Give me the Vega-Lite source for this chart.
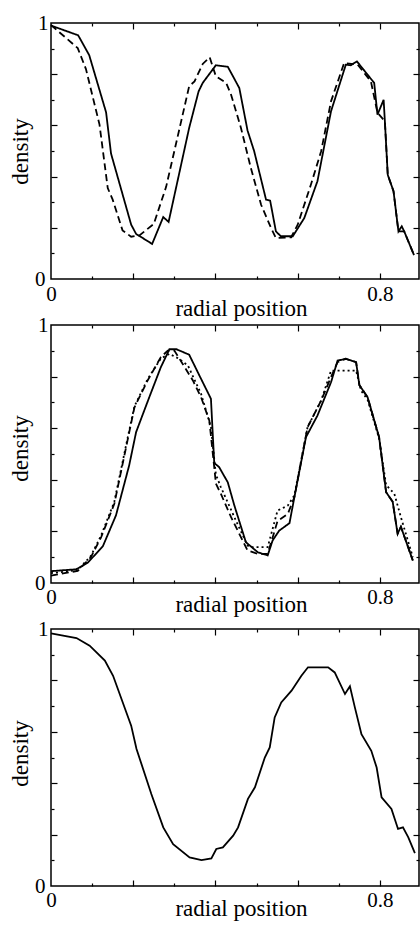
{
  "$schema": "https://vega.github.io/schema/vega-lite/v6.json",
  "padding": {"left": 8, "top": 11, "right": 0, "bottom": 0},
  "background": "white",
  "config": {
    "font": "'Liberation Serif', 'Times New Roman', serif",
    "view": {"stroke": "black", "strokeWidth": 1.5},
    "axis": {"domain": false, "grid": false, "labels": false, "ticks": true, "tickColor": "black", "tickWidth": 1.2, "format": "~g",
      "labelFont": "'Liberation Serif', 'Times New Roman', serif", "labelFontSize": 21, "labelColor": "black", "labelFlush": false, "labelOverlap": false,
      "titleFont": "'Liberation Serif', 'Times New Roman', serif", "titleFontSize": 23, "titleColor": "black", "titleFontWeight": "normal"}
  },
  "datasets": {
    "p1": [
      {"s": "solid", "x": 0, "y": 0.99}, {"s": "solid", "x": 0.066, "y": 0.952}, {"s": "solid", "x": 0.093, "y": 0.874},
      {"s": "solid", "x": 0.134, "y": 0.651}, {"s": "solid", "x": 0.146, "y": 0.49}, {"s": "solid", "x": 0.195, "y": 0.212},
      {"s": "solid", "x": 0.207, "y": 0.176}, {"s": "solid", "x": 0.246, "y": 0.137}, {"s": "solid", "x": 0.273, "y": 0.242},
      {"s": "solid", "x": 0.286, "y": 0.223}, {"s": "solid", "x": 0.336, "y": 0.59}, {"s": "solid", "x": 0.359, "y": 0.733},
      {"s": "solid", "x": 0.369, "y": 0.766}, {"s": "solid", "x": 0.401, "y": 0.835}, {"s": "solid", "x": 0.43, "y": 0.829},
      {"s": "solid", "x": 0.458, "y": 0.746}, {"s": "solid", "x": 0.478, "y": 0.58}, {"s": "solid", "x": 0.494, "y": 0.5},
      {"s": "solid", "x": 0.523, "y": 0.31}, {"s": "solid", "x": 0.533, "y": 0.306}, {"s": "solid", "x": 0.547, "y": 0.186},
      {"s": "solid", "x": 0.559, "y": 0.167}, {"s": "solid", "x": 0.588, "y": 0.167}, {"s": "solid", "x": 0.616, "y": 0.238},
      {"s": "solid", "x": 0.648, "y": 0.382}, {"s": "solid", "x": 0.681, "y": 0.655}, {"s": "solid", "x": 0.717, "y": 0.837},
      {"s": "solid", "x": 0.729, "y": 0.835}, {"s": "solid", "x": 0.744, "y": 0.85}, {"s": "solid", "x": 0.786, "y": 0.766},
      {"s": "solid", "x": 0.794, "y": 0.642}, {"s": "solid", "x": 0.809, "y": 0.7}, {"s": "solid", "x": 0.812, "y": 0.616},
      {"s": "solid", "x": 0.819, "y": 0.407}, {"s": "solid", "x": 0.833, "y": 0.343}, {"s": "solid", "x": 0.845, "y": 0.186},
      {"s": "solid", "x": 0.853, "y": 0.206}, {"s": "solid", "x": 0.859, "y": 0.186}, {"s": "solid", "x": 0.883, "y": 0.093},
      {"s": "dashed", "x": 0, "y": 0.992}, {"s": "dashed", "x": 0.065, "y": 0.902}, {"s": "dashed", "x": 0.085, "y": 0.82},
      {"s": "dashed", "x": 0.118, "y": 0.603}, {"s": "dashed", "x": 0.138, "y": 0.355}, {"s": "dashed", "x": 0.15, "y": 0.31},
      {"s": "dashed", "x": 0.174, "y": 0.19}, {"s": "dashed", "x": 0.195, "y": 0.165}, {"s": "dashed", "x": 0.215, "y": 0.17},
      {"s": "dashed", "x": 0.25, "y": 0.215}, {"s": "dashed", "x": 0.28, "y": 0.36}, {"s": "dashed", "x": 0.3, "y": 0.5},
      {"s": "dashed", "x": 0.32, "y": 0.64}, {"s": "dashed", "x": 0.336, "y": 0.753}, {"s": "dashed", "x": 0.349, "y": 0.772},
      {"s": "dashed", "x": 0.369, "y": 0.84}, {"s": "dashed", "x": 0.386, "y": 0.866}, {"s": "dashed", "x": 0.401, "y": 0.792},
      {"s": "dashed", "x": 0.426, "y": 0.766}, {"s": "dashed", "x": 0.438, "y": 0.72}, {"s": "dashed", "x": 0.462, "y": 0.59},
      {"s": "dashed", "x": 0.486, "y": 0.434}, {"s": "dashed", "x": 0.511, "y": 0.29}, {"s": "dashed", "x": 0.535, "y": 0.2},
      {"s": "dashed", "x": 0.547, "y": 0.16}, {"s": "dashed", "x": 0.584, "y": 0.163}, {"s": "dashed", "x": 0.6, "y": 0.212},
      {"s": "dashed", "x": 0.632, "y": 0.368}, {"s": "dashed", "x": 0.657, "y": 0.499}, {"s": "dashed", "x": 0.681, "y": 0.694},
      {"s": "dashed", "x": 0.713, "y": 0.844}, {"s": "dashed", "x": 0.746, "y": 0.837}, {"s": "dashed", "x": 0.778, "y": 0.772},
      {"s": "dashed", "x": 0.794, "y": 0.65}, {"s": "dashed", "x": 0.812, "y": 0.616}, {"s": "dashed", "x": 0.819, "y": 0.407},
      {"s": "dashed", "x": 0.833, "y": 0.343}, {"s": "dashed", "x": 0.845, "y": 0.186}, {"s": "dashed", "x": 0.859, "y": 0.186},
      {"s": "dashed", "x": 0.883, "y": 0.093}
    ],
    "p2": [
      {"s": "solid", "x": 0, "y": 0.046}, {"s": "solid", "x": 0.061, "y": 0.053}, {"s": "solid", "x": 0.089, "y": 0.078},
      {"s": "solid", "x": 0.126, "y": 0.142}, {"s": "solid", "x": 0.158, "y": 0.262}, {"s": "solid", "x": 0.19, "y": 0.455},
      {"s": "solid", "x": 0.207, "y": 0.585}, {"s": "solid", "x": 0.239, "y": 0.72}, {"s": "solid", "x": 0.267, "y": 0.836},
      {"s": "solid", "x": 0.288, "y": 0.906}, {"s": "solid", "x": 0.305, "y": 0.906}, {"s": "solid", "x": 0.336, "y": 0.885},
      {"s": "solid", "x": 0.361, "y": 0.804}, {"s": "solid", "x": 0.389, "y": 0.714}, {"s": "solid", "x": 0.397, "y": 0.465},
      {"s": "solid", "x": 0.409, "y": 0.449}, {"s": "solid", "x": 0.43, "y": 0.39}, {"s": "solid", "x": 0.446, "y": 0.3},
      {"s": "solid", "x": 0.474, "y": 0.158}, {"s": "solid", "x": 0.503, "y": 0.119}, {"s": "solid", "x": 0.527, "y": 0.107},
      {"s": "solid", "x": 0.539, "y": 0.165}, {"s": "solid", "x": 0.555, "y": 0.203}, {"s": "solid", "x": 0.58, "y": 0.232},
      {"s": "solid", "x": 0.592, "y": 0.333}, {"s": "solid", "x": 0.62, "y": 0.565}, {"s": "solid", "x": 0.648, "y": 0.649},
      {"s": "solid", "x": 0.681, "y": 0.778}, {"s": "solid", "x": 0.697, "y": 0.862}, {"s": "solid", "x": 0.717, "y": 0.869},
      {"s": "solid", "x": 0.742, "y": 0.856}, {"s": "solid", "x": 0.75, "y": 0.767}, {"s": "solid", "x": 0.77, "y": 0.72},
      {"s": "solid", "x": 0.798, "y": 0.565}, {"s": "solid", "x": 0.815, "y": 0.352}, {"s": "solid", "x": 0.831, "y": 0.315},
      {"s": "solid", "x": 0.843, "y": 0.191}, {"s": "solid", "x": 0.851, "y": 0.218}, {"s": "solid", "x": 0.88, "y": 0.087},
      {"s": "dashed", "x": 0, "y": 0.029}, {"s": "dashed", "x": 0.065, "y": 0.047}, {"s": "dashed", "x": 0.097, "y": 0.1},
      {"s": "dashed", "x": 0.122, "y": 0.178}, {"s": "dashed", "x": 0.154, "y": 0.307}, {"s": "dashed", "x": 0.186, "y": 0.552},
      {"s": "dashed", "x": 0.203, "y": 0.681}, {"s": "dashed", "x": 0.235, "y": 0.785}, {"s": "dashed", "x": 0.267, "y": 0.875},
      {"s": "dashed", "x": 0.284, "y": 0.901}, {"s": "dashed", "x": 0.3, "y": 0.901}, {"s": "dashed", "x": 0.32, "y": 0.85},
      {"s": "dashed", "x": 0.345, "y": 0.785}, {"s": "dashed", "x": 0.365, "y": 0.72}, {"s": "dashed", "x": 0.385, "y": 0.63},
      {"s": "dashed", "x": 0.397, "y": 0.449}, {"s": "dashed", "x": 0.401, "y": 0.385}, {"s": "dashed", "x": 0.413, "y": 0.346},
      {"s": "dashed", "x": 0.438, "y": 0.255}, {"s": "dashed", "x": 0.478, "y": 0.126}, {"s": "dashed", "x": 0.503, "y": 0.113},
      {"s": "dashed", "x": 0.527, "y": 0.113}, {"s": "dashed", "x": 0.551, "y": 0.24}, {"s": "dashed", "x": 0.576, "y": 0.268},
      {"s": "dashed", "x": 0.592, "y": 0.333}, {"s": "dashed", "x": 0.624, "y": 0.604}, {"s": "dashed", "x": 0.657, "y": 0.707},
      {"s": "dashed", "x": 0.681, "y": 0.798}, {"s": "dashed", "x": 0.697, "y": 0.856}, {"s": "dashed", "x": 0.717, "y": 0.869},
      {"s": "dashed", "x": 0.742, "y": 0.856}, {"s": "dashed", "x": 0.75, "y": 0.767}, {"s": "dashed", "x": 0.77, "y": 0.72},
      {"s": "dashed", "x": 0.798, "y": 0.565}, {"s": "dashed", "x": 0.815, "y": 0.352}, {"s": "dashed", "x": 0.831, "y": 0.315},
      {"s": "dashed", "x": 0.843, "y": 0.191}, {"s": "dashed", "x": 0.851, "y": 0.218}, {"s": "dashed", "x": 0.88, "y": 0.087},
      {"s": "dotted", "x": 0, "y": 0.038}, {"s": "dotted", "x": 0.065, "y": 0.05}, {"s": "dotted", "x": 0.097, "y": 0.105},
      {"s": "dotted", "x": 0.122, "y": 0.185}, {"s": "dotted", "x": 0.154, "y": 0.315}, {"s": "dotted", "x": 0.186, "y": 0.56},
      {"s": "dotted", "x": 0.203, "y": 0.685}, {"s": "dotted", "x": 0.235, "y": 0.79}, {"s": "dotted", "x": 0.267, "y": 0.87},
      {"s": "dotted", "x": 0.288, "y": 0.888}, {"s": "dotted", "x": 0.31, "y": 0.87}, {"s": "dotted", "x": 0.333, "y": 0.843},
      {"s": "dotted", "x": 0.365, "y": 0.733}, {"s": "dotted", "x": 0.389, "y": 0.604}, {"s": "dotted", "x": 0.401, "y": 0.42},
      {"s": "dotted", "x": 0.413, "y": 0.372}, {"s": "dotted", "x": 0.446, "y": 0.255}, {"s": "dotted", "x": 0.478, "y": 0.145},
      {"s": "dotted", "x": 0.486, "y": 0.139}, {"s": "dotted", "x": 0.527, "y": 0.139}, {"s": "dotted", "x": 0.551, "y": 0.281},
      {"s": "dotted", "x": 0.576, "y": 0.3}, {"s": "dotted", "x": 0.592, "y": 0.34}, {"s": "dotted", "x": 0.624, "y": 0.604},
      {"s": "dotted", "x": 0.657, "y": 0.707}, {"s": "dotted", "x": 0.681, "y": 0.823}, {"s": "dotted", "x": 0.742, "y": 0.823},
      {"s": "dotted", "x": 0.754, "y": 0.746}, {"s": "dotted", "x": 0.77, "y": 0.71}, {"s": "dotted", "x": 0.798, "y": 0.56},
      {"s": "dotted", "x": 0.815, "y": 0.38}, {"s": "dotted", "x": 0.835, "y": 0.346}, {"s": "dotted", "x": 0.851, "y": 0.255},
      {"s": "dotted", "x": 0.88, "y": 0.1}
    ],
    "p3": [
      {"s": "solid", "x": 0, "y": 0.983}, {"s": "solid", "x": 0.062, "y": 0.965}, {"s": "solid", "x": 0.094, "y": 0.935},
      {"s": "solid", "x": 0.131, "y": 0.877}, {"s": "solid", "x": 0.151, "y": 0.818}, {"s": "solid", "x": 0.195, "y": 0.624},
      {"s": "solid", "x": 0.208, "y": 0.533}, {"s": "solid", "x": 0.244, "y": 0.358}, {"s": "solid", "x": 0.273, "y": 0.228},
      {"s": "solid", "x": 0.297, "y": 0.163}, {"s": "solid", "x": 0.337, "y": 0.111}, {"s": "solid", "x": 0.366, "y": 0.101},
      {"s": "solid", "x": 0.39, "y": 0.107}, {"s": "solid", "x": 0.402, "y": 0.144}, {"s": "solid", "x": 0.418, "y": 0.15},
      {"s": "solid", "x": 0.443, "y": 0.196}, {"s": "solid", "x": 0.455, "y": 0.228}, {"s": "solid", "x": 0.479, "y": 0.339},
      {"s": "solid", "x": 0.496, "y": 0.384}, {"s": "solid", "x": 0.52, "y": 0.5}, {"s": "solid", "x": 0.532, "y": 0.539},
      {"s": "solid", "x": 0.544, "y": 0.656}, {"s": "solid", "x": 0.56, "y": 0.714}, {"s": "solid", "x": 0.585, "y": 0.76},
      {"s": "solid", "x": 0.609, "y": 0.818}, {"s": "solid", "x": 0.625, "y": 0.851}, {"s": "solid", "x": 0.674, "y": 0.851},
      {"s": "solid", "x": 0.69, "y": 0.831}, {"s": "solid", "x": 0.715, "y": 0.747}, {"s": "solid", "x": 0.727, "y": 0.777},
      {"s": "solid", "x": 0.739, "y": 0.695}, {"s": "solid", "x": 0.755, "y": 0.591}, {"s": "solid", "x": 0.779, "y": 0.526},
      {"s": "solid", "x": 0.792, "y": 0.461}, {"s": "solid", "x": 0.804, "y": 0.345}, {"s": "solid", "x": 0.828, "y": 0.3},
      {"s": "solid", "x": 0.844, "y": 0.222}, {"s": "solid", "x": 0.856, "y": 0.228}, {"s": "solid", "x": 0.869, "y": 0.189},
      {"s": "solid", "x": 0.885, "y": 0.128}
    ]
  },
  "vconcat": [
    {
      "width": 368, "height": 256,
      "data": {"name": "p1"},
      "layer": [
        {"mark": {"type": "line", "color": "black", "strokeWidth": 1.8},
         "encoding": {
           "x": {"field": "x", "type": "quantitative", "title": "radial position", "scale": {"domain": [0, 0.895], "nice": false, "zero": false},
             "axis": {"orient": "bottom", "values": [0, 0.8], "format": "~g", "ticks": false, "labels": true, "labelPadding": 4, "titleX": 190, "titleY": 36, "titleBaseline": "alphabetic"}},
           "y": {"field": "y", "type": "quantitative", "title": "density", "scale": {"domain": [0, 1], "nice": false},
             "axis": {"orient": "left", "values": [0, 1], "format": "~g", "ticks": false, "labels": true, "labelPadding": {"condition": {"test": "datum.value == 0", "value": 6}, "value": 3}, "titleX": -24, "titleY": 128, "titleAngle": -90, "titleBaseline": "alphabetic", "titleAlign": "center"}},
           "strokeDash": {"field": "s", "type": "nominal", "legend": null, "scale": {"domain": ["solid", "dashed", "dotted"], "range": [[1, 0], [7, 4], [2, 3]]}}
         }},
        {"mark": {"type": "point", "opacity": 0},
         "encoding": {
           "x": {"field": "x", "type": "quantitative", "title": null, "axis": {"orient": "bottom", "values": [0.2, 0.4, 0.6, 0.8], "tickSize": -6}},
           "y": {"field": "y", "type": "quantitative", "title": null, "axis": {"orient": "left", "values": [0.2, 0.4, 0.6, 0.8], "tickSize": -6}}}},
        {"mark": {"type": "point", "opacity": 0},
         "encoding": {
           "x": {"field": "x", "type": "quantitative", "title": null, "axis": {"orient": "bottom", "values": [0.1, 0.3, 0.5, 0.7], "tickSize": -3}},
           "y": {"field": "y", "type": "quantitative", "title": null, "axis": {"orient": "left", "values": [0.1, 0.3, 0.5, 0.7, 0.9], "tickSize": -3}}}},
        {"mark": {"type": "point", "opacity": 0},
         "encoding": {
           "x": {"field": "x", "type": "quantitative", "title": null, "axis": {"orient": "top", "values": [0.2, 0.4, 0.6, 0.8], "tickSize": -6}},
           "y": {"field": "y", "type": "quantitative", "title": null, "axis": {"orient": "right", "values": [0.2, 0.4, 0.6, 0.8], "tickSize": -6}}}},
        {"mark": {"type": "point", "opacity": 0},
         "encoding": {
           "x": {"field": "x", "type": "quantitative", "title": null, "axis": {"orient": "top", "values": [0.1, 0.3, 0.5, 0.7], "tickSize": -3}},
           "y": {"field": "y", "type": "quantitative", "title": null, "axis": {"orient": "right", "values": [0.1, 0.3, 0.5, 0.7, 0.9], "tickSize": -3}}}}
      ],
      "resolve": {"axis": {"x": "independent", "y": "independent"}}
    },
    {
      "width": 368, "height": 258,
      "data": {"name": "p2"},
      "layer": [
        {"mark": {"type": "line", "color": "black", "strokeWidth": 1.8},
         "encoding": {
           "x": {"field": "x", "type": "quantitative", "title": "radial position", "scale": {"domain": [0, 0.895], "nice": false, "zero": false},
             "axis": {"orient": "bottom", "values": [0, 0.8], "format": "~g", "ticks": false, "labels": true, "labelPadding": 3, "titleX": 190, "titleY": 28, "titleBaseline": "alphabetic"}},
           "y": {"field": "y", "type": "quantitative", "title": "density", "scale": {"domain": [0, 1], "nice": false},
             "axis": {"orient": "left", "values": [0, 1], "format": "~g", "ticks": false, "labels": true, "labelPadding": {"condition": {"test": "datum.value == 0", "value": 6}, "value": 3}, "titleX": -24, "titleY": 123, "titleAngle": -90, "titleBaseline": "alphabetic", "titleAlign": "center"}},
           "strokeDash": {"field": "s", "type": "nominal", "legend": null, "scale": {"domain": ["solid", "dashed", "dotted"], "range": [[1, 0], [5, 3], [1.5, 3]]}}
         }},
        {"mark": {"type": "point", "opacity": 0},
         "encoding": {
           "x": {"field": "x", "type": "quantitative", "title": null, "axis": {"orient": "bottom", "values": [0.2, 0.4, 0.6, 0.8], "tickSize": -6}},
           "y": {"field": "y", "type": "quantitative", "title": null, "axis": {"orient": "left", "values": [0.2, 0.4, 0.6, 0.8], "tickSize": -6}}}},
        {"mark": {"type": "point", "opacity": 0},
         "encoding": {
           "x": {"field": "x", "type": "quantitative", "title": null, "axis": {"orient": "bottom", "values": [0.1, 0.3, 0.5, 0.7], "tickSize": -3}},
           "y": {"field": "y", "type": "quantitative", "title": null, "axis": {"orient": "left", "values": [0.1, 0.3, 0.5, 0.7, 0.9], "tickSize": -3}}}},
        {"mark": {"type": "point", "opacity": 0},
         "encoding": {
           "x": {"field": "x", "type": "quantitative", "title": null, "axis": {"orient": "top", "values": [0.2, 0.4, 0.6, 0.8], "tickSize": -6}},
           "y": {"field": "y", "type": "quantitative", "title": null, "axis": {"orient": "right", "values": [0.2, 0.4, 0.6, 0.8], "tickSize": -6}}}},
        {"mark": {"type": "point", "opacity": 0},
         "encoding": {
           "x": {"field": "x", "type": "quantitative", "title": null, "axis": {"orient": "top", "values": [0.1, 0.3, 0.5, 0.7], "tickSize": -3}},
           "y": {"field": "y", "type": "quantitative", "title": null, "axis": {"orient": "right", "values": [0.1, 0.3, 0.5, 0.7, 0.9], "tickSize": -3}}}}
      ],
      "resolve": {"axis": {"x": "independent", "y": "independent"}}
    },
    {
      "width": 368, "height": 257,
      "data": {"name": "p3"},
      "layer": [
        {"mark": {"type": "line", "color": "black", "strokeWidth": 1.8},
         "encoding": {
           "x": {"field": "x", "type": "quantitative", "title": "radial position", "scale": {"domain": [0, 0.895], "nice": false, "zero": false},
             "axis": {"orient": "bottom", "values": [0, 0.8], "format": "~g", "ticks": false, "labels": true, "labelPadding": 3, "titleX": 190, "titleY": 29, "titleBaseline": "alphabetic"}},
           "y": {"field": "y", "type": "quantitative", "title": "density", "scale": {"domain": [0, 1], "nice": false},
             "axis": {"orient": "left", "values": [0, 1], "format": "~g", "ticks": false, "labels": true, "labelPadding": {"condition": {"test": "datum.value == 0", "value": 6}, "value": 3}, "titleX": -24, "titleY": 124, "titleAngle": -90, "titleBaseline": "alphabetic", "titleAlign": "center"}}
         }},
        {"mark": {"type": "point", "opacity": 0},
         "encoding": {
           "x": {"field": "x", "type": "quantitative", "title": null, "axis": {"orient": "bottom", "values": [0.2, 0.4, 0.6, 0.8], "tickSize": -6}},
           "y": {"field": "y", "type": "quantitative", "title": null, "axis": {"orient": "left", "values": [0.2, 0.4, 0.6, 0.8], "tickSize": -6}}}},
        {"mark": {"type": "point", "opacity": 0},
         "encoding": {
           "x": {"field": "x", "type": "quantitative", "title": null, "axis": {"orient": "bottom", "values": [0.1, 0.3, 0.5, 0.7], "tickSize": -3}},
           "y": {"field": "y", "type": "quantitative", "title": null, "axis": {"orient": "left", "values": [0.1, 0.3, 0.5, 0.7, 0.9], "tickSize": -3}}}},
        {"mark": {"type": "point", "opacity": 0},
         "encoding": {
           "x": {"field": "x", "type": "quantitative", "title": null, "axis": {"orient": "top", "values": [0.2, 0.4, 0.6, 0.8], "tickSize": -6}},
           "y": {"field": "y", "type": "quantitative", "title": null, "axis": {"orient": "right", "values": [0.2, 0.4, 0.6, 0.8], "tickSize": -6}}}},
        {"mark": {"type": "point", "opacity": 0},
         "encoding": {
           "x": {"field": "x", "type": "quantitative", "title": null, "axis": {"orient": "top", "values": [0.1, 0.3, 0.5, 0.7], "tickSize": -3}},
           "y": {"field": "y", "type": "quantitative", "title": null, "axis": {"orient": "right", "values": [0.1, 0.3, 0.5, 0.7, 0.9], "tickSize": -3}}}}
      ],
      "resolve": {"axis": {"x": "independent", "y": "independent"}}
    }
  ],
  "spacing": 46,
  "bounds": "flush"
}
